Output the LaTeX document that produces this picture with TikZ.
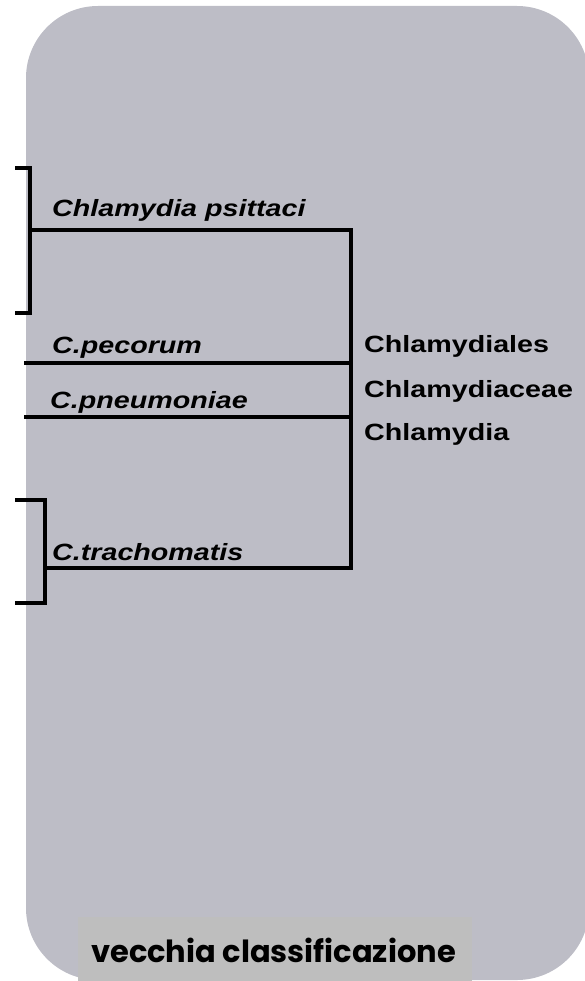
\documentclass[tikz,border=0pt]{standalone}
\usepackage{fontspec}
\setmainfont{Liberation Sans}
\newfontfamily\capfont{Poppins}
\definecolor{panelgray}{RGB}{189,189,198}
\definecolor{boxgray}{RGB}{190,190,190}
\tikzset{
  branch/.style={line width=3.5pt, line join=miter, line cap=rect},
  species/.style={anchor=base west, inner sep=0pt, font=\fontsize{23.5}{26}\selectfont\bfseries\itshape},
  taxon/.style={anchor=base west, inner sep=0pt, font=\fontsize{23.5}{26}\selectfont\bfseries},
}
\newcommand{\wide}[1]{\scalebox{1.22}[1]{#1}}
\begin{document}
\begin{tikzpicture}[x=1pt,y=-1pt]
\useasboundingbox (0,0) rectangle (585,981);
\fill[panelgray, rounded corners=72pt] (26,6) rectangle (589,980);
\node[fill=boxgray, minimum width=394pt, minimum height=64pt, inner sep=0pt, anchor=north west] (capbox) at (78,917) {};
\node[inner sep=0pt, anchor=base, font=\capfont\fontsize{30.5}{33}\selectfont\bfseries] (caption) at (273.5,962) {vecchia classificazione};

% coordinates of the tree
\coordinate (b1t) at (17,168);
\coordinate (b1tc) at (30,168);
\coordinate (b1m) at (30,230);
\coordinate (b1bc) at (30,313);
\coordinate (b1b) at (17,313);
\coordinate (root1) at (351,230);
\coordinate (pecL) at (26,363);
\coordinate (pecR) at (351,363);
\coordinate (pneL) at (26,417);
\coordinate (pneR) at (351,417);
\coordinate (root2) at (351,568);
\coordinate (b2m) at (45,568);
\coordinate (b2t) at (17,500);
\coordinate (b2tc) at (45,500);
\coordinate (b2bc) at (45,603);
\coordinate (b2b) at (17,603);

\draw[branch] (b1t) -- (b1tc) -- (b1bc) -- (b1b);
\draw[branch] (b1m) -- (root1) -- (root2) -- (b2m);
\draw[branch] (b2t) -- (b2tc) -- (b2bc) -- (b2b);
\draw[branch] (pecL) -- (pecR);
\draw[branch] (pneL) -- (pneR);

\node[species] (psittaci) at (52,217) {\wide{Chlamydia psittaci}};
\node[species] (pecorum) at (52,353) {\wide{C.pecorum}};
\node[species] (pneumoniae) at (50,408) {\wide{C.pneumoniae}};
\node[species] (trachomatis) at (52,560) {\wide{C.trachomatis}};

\node[taxon] (order) at (364,352) {\wide{Chlamydiales}};
\node[taxon] (family) at (364,397) {\wide{Chlamydiaceae}};
\node[taxon] (genus) at (364,440) {\wide{Chlamydia}};
\end{tikzpicture}
\end{document}
